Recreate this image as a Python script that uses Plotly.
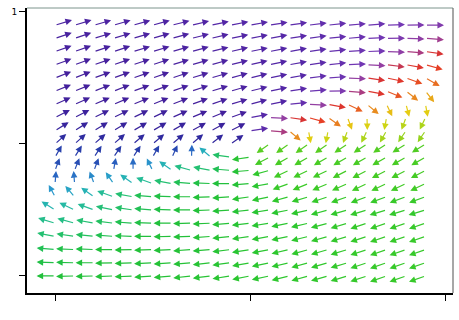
import numpy as np
import plotly.graph_objects as go

# grid of arrow tails (data coordinates)
X_VALUES = [0.0, 0.1, 0.2, 0.3, 0.4, 0.5, 0.6, 0.7, 0.8, 0.9,
            1.0, 1.1, 1.2, 1.3, 1.4, 1.5, 1.6, 1.7, 1.8, 1.9]
Y_VALUES = [0.9, 0.8, 0.7, 0.6, 0.5, 0.4, 0.3, 0.2, 0.1, 0.0,
            -0.1, -0.2, -0.3, -0.4, -0.5, -0.6, -0.7, -0.8, -0.9, -1.0]

# arrow direction (degrees, data space), one row per Y value, one column per X value
ANGLE = [
    [24, 24, 23, 23, 22, 22, 20, 19, 17, 16, 15, 13, 12, 10, 9, 7, 6, 3, 1, 0],
    [26, 26, 24, 24, 23, 23, 22, 20, 19, 17, 16, 15, 13, 12, 9, 7, 4, 1, -3, -6],
    [27, 27, 26, 26, 24, 24, 23, 22, 20, 19, 17, 16, 15, 12, 9, 6, 3, -3, -7, -12],
    [28, 28, 27, 27, 26, 26, 24, 23, 22, 20, 19, 17, 15, 12, 9, 4, -4, -10, -15, -22],
    [30, 30, 28, 28, 27, 27, 26, 24, 23, 22, 20, 17, 15, 10, 6, -4, -12, -17, -28, -40],
    [31, 31, 30, 30, 28, 28, 27, 26, 24, 23, 20, 17, 13, 7, 1, -7, -15, -31, -49, -62],
    [33, 33, 32, 32, 31, 31, 30, 28, 27, 24, 22, 17, 9, -4, -15, -35, -51, -72, -80, -83],
    [37, 37, 36, 36, 35, 35, 33, 32, 31, 28, 15, -4, -12, -22, -46, -76, -89, -97, -104, -108],
    [43, 43, 42, 42, 41, 41, 41, 39, 39, 37, 12, -7, -51, -83, -97, -104, -108, -111, -115, -115],
    [53, 53, 52, 52, 51, 51, 51, 51, 49, 46, 0, -134, -134, -134, -134, -135, -136, -136, -137, -137],
    [69, 67, 66, 65, 66, 69, 73, 89, 129, 168, -168, -142, -140, -140, -140, -140, -140, -140, -140, -140],
    [76, 75, 76, 83, 90, 108, 134, 158, 165, 173, -173, -158, -145, -145, -145, -143, -142, -142, -142, -142],
    [87, 93, 104, 115, 134, 152, 165, 173, 177, 180, -173, -165, -152, -149, -148, -147, -145, -145, -145, -145],
    [110, 120, 134, 152, 165, 173, 177, 180, -177, -174, -168, -163, -158, -156, -154, -153, -152, -152, -152, -152],
    [137, 145, 152, 163, 168, 173, 177, 180, -177, -174, -171, -167, -164, -161, -158, -157, -156, -156, -156, -156],
    [156, 158, 165, 170, 174, 177, 180, -178, -176, -173, -170, -167, -164, -161, -158, -156, -154, -153, -153, -153],
    [165, 168, 171, 174, 177, 180, -178, -177, -174, -171, -168, -165, -163, -160, -157, -156, -154, -153, -153, -153],
    [173, 176, 177, 180, -178, -177, -176, -174, -173, -170, -167, -164, -161, -158, -157, -156, -154, -153, -153, -153],
    [177, 178, 180, -178, -177, -176, -174, -173, -171, -169, -165, -163, -161, -158, -157, -156, -154, -153, -153, -153],
    [180, -178, -178, -177, -176, -174, -173, -171, -170, -167, -164, -163, -160, -158, -157, -156, -154, -153, -153, -153],
]

# relative arrow magnitude (1 = normal); the stagnation point near (1, 0) is tiny
MAGNITUDE = [[1.0] * 20 for _ in range(20)]
MAGNITUDE[9] = [1, 1, 1, 1, 1, 1, 1, 1, 1, 1, 0.08, 1, 1, 1, 1, 1, 1, 1, 1, 1]

# colour by direction
COLOR_STOPS = [
    (-180, "#22c03c"), (-160, "#2ec82e"), (-140, "#48cc24"), (-125, "#70d020"),
    (-110, "#a8d41c"), (-95, "#d4d414"), (-80, "#e6cc12"), (-65, "#e8b018"),
    (-50, "#e88a20"), (-35, "#e86022"), (-20, "#e63a26"), (-12, "#d83434"),
    (-5, "#9840a0"), (3, "#7438b4"), (15, "#5628a8"), (30, "#44209c"),
    (50, "#30289e"), (68, "#2840ac"), (88, "#2a68c4"), (110, "#2a98cc"),
    (130, "#26b0bc"), (150, "#26bc9c"), (165, "#24c072"), (180, "#22c03c"),
]


def hex_rgb(h):
    return np.array([int(h[i:i + 2], 16) for i in (1, 3, 5)], dtype=float)


stop_a = np.array([a for a, _ in COLOR_STOPS], dtype=float)
stop_c = np.array([hex_rgb(c) for _, c in COLOR_STOPS])


def angle_color(a):
    r = np.interp(a, stop_a, stop_c[:, 0])
    g = np.interp(a, stop_a, stop_c[:, 1])
    b = np.interp(a, stop_a, stop_c[:, 2])
    return f"rgb({int(r)},{int(g)},{int(b)})"


ARROW_LEN = 0.095

annotations = []
for ri, yv in enumerate(Y_VALUES):
    for ci, xv in enumerate(X_VALUES):
        a = ANGLE[ri][ci]
        m = MAGNITUDE[ri][ci]
        t = np.radians(a)
        u = ARROW_LEN * m * np.cos(t)
        v = ARROW_LEN * m * np.sin(t)
        annotations.append(dict(
            x=xv + u, y=yv + v, ax=xv, ay=yv,
            xref="x", yref="y", axref="x", ayref="y",
            text="", showarrow=True,
            arrowhead=2 if m > 0.5 else 0,
            arrowsize=1.1, arrowwidth=1.2,
            arrowcolor=angle_color(a), standoff=0,
        ))

fig = go.Figure()
fig.add_trace(go.Scatter(x=[None], y=[None], mode="markers", showlegend=False,
                         hoverinfo="skip"))

fig.update_layout(
    width=459, height=320,
    margin=dict(l=27, r=6, t=8, b=27),
    paper_bgcolor="white", plot_bgcolor="white",
    showlegend=False,
    annotations=annotations,
    xaxis=dict(range=[-0.144, 2.041], showgrid=False, zeroline=False,
               showline=True, linecolor="black", linewidth=1.5,
               ticks="outside", ticklen=6, tickwidth=1.2, tickcolor="black",
               tickvals=[0, 1, 2], ticktext=["", "", ""]),
    yaxis=dict(range=[-1.129, 1.03], showgrid=False, zeroline=False,
               showline=True, linecolor="black", linewidth=1.8,
               ticks="outside", ticklen=6, tickwidth=1.2, tickcolor="black",
               tickvals=[-1, 0, 1], ticktext=["", "", "1"],
               tickfont=dict(family="DejaVu Sans", size=9, color="black")),
    shapes=[
        dict(type="line", xref="paper", yref="paper", x0=1, x1=1, y0=0, y1=1,
             line=dict(color="#8a8a8a", width=1.5)),
        dict(type="line", xref="paper", yref="paper", x0=0, x1=1, y0=1, y1=1,
             line=dict(color="#5a7a70", width=0.8)),
    ],
)

fig.write_html("out.html")
